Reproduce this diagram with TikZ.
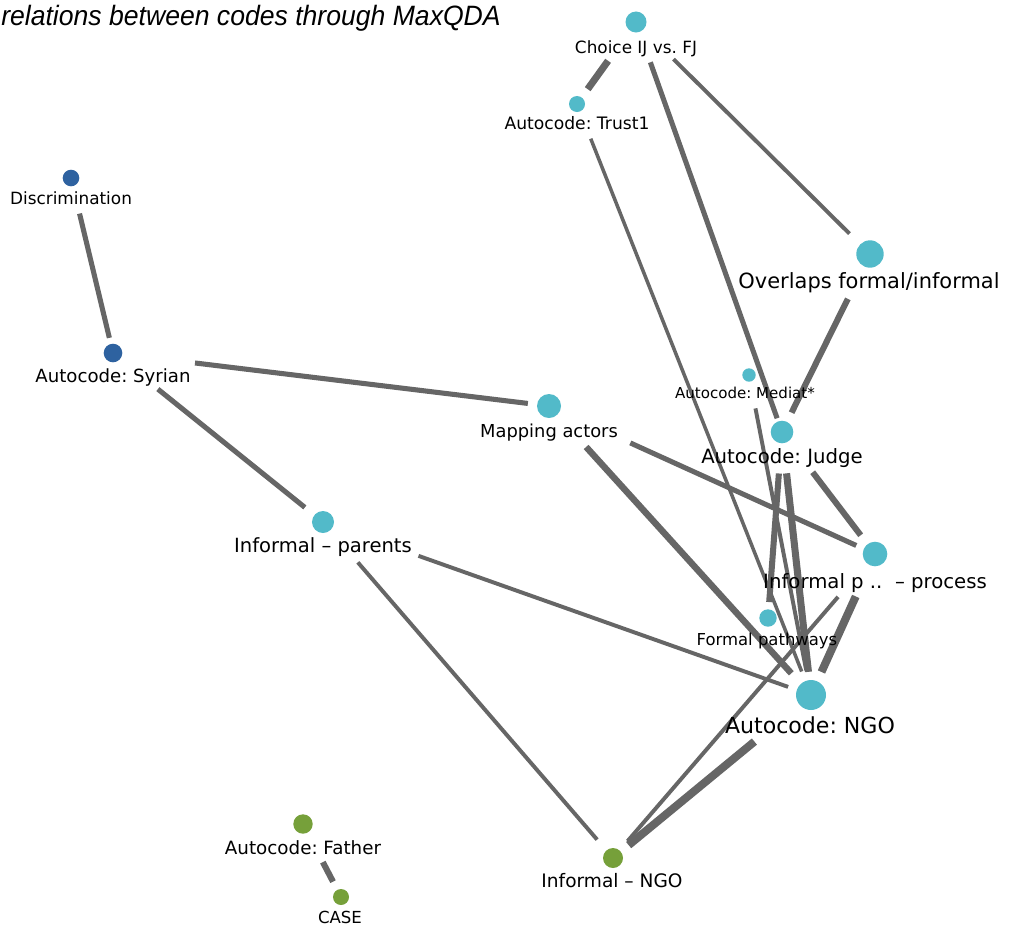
\documentclass[tikz,border=0pt]{standalone}
\usepackage{fontspec}
\setmainfont{DejaVu Sans}
\newfontfamily\titlefont{Liberation Sans}
\usetikzlibrary{positioning}
\frenchspacing

\definecolor{codecyan}{RGB}{82,186,201}
\definecolor{codeblue}{RGB}{46,98,160}
\definecolor{codegreen}{RGB}{118,160,58}
\definecolor{edgegray}{RGB}{102,102,102}

\begin{document}
\begin{tikzpicture}[x=0.025cm, y=-0.025cm,
  dot/.style={circle, inner sep=0pt, draw=none, minimum size=#1*0.05cm},
  lbl/.style={anchor=base, inner sep=0pt, font=\fontsize{#1}{#1}\selectfont},
  link/.style={draw=edgegray, line width=#1},
  trim/.style 2 args={shorten <=#1*0.7113pt, shorten >=#2*0.7113pt}]
  \useasboundingbox (0,0) rectangle (1009,928);

  \node[anchor=base west, inner sep=0pt, font=\titlefont\itshape\fontsize{19.9pt}{20pt}\selectfont] (title) at (1,25) {\scalebox{0.95}[1]{relations between codes through MaxQDA}};

  % codes
  \node[dot=10.5, fill=codecyan] (choice) at (636,22) {};
  \node[dot=8, fill=codecyan] (trust) at (577,104) {};
  \node[dot=8.3, fill=codeblue] (discr) at (71,178) {};
  \node[dot=13.7, fill=codecyan] (overl) at (870,254) {};
  \node[dot=9.3, fill=codeblue] (syr) at (113,353) {};
  \node[dot=6.7, fill=codecyan] (mediat) at (749,375) {};
  \node[dot=12, fill=codecyan] (mapp) at (549,406) {};
  \node[dot=11.3, fill=codecyan] (judge) at (782,432) {};
  \node[dot=11, fill=codecyan] (parents) at (323,522) {};
  \node[dot=12.3, fill=codecyan] (proc) at (875,554) {};
  \node[dot=8.7, fill=codecyan] (formal) at (768,618) {};
  \node[dot=15, fill=codecyan] (ngo) at (811,695) {};
  \node[dot=9.7, fill=codegreen] (father) at (303,824) {};
  \node[dot=8, fill=codegreen] (case) at (341,897) {};
  \node[dot=10, fill=codegreen] (infngo) at (613,858) {};

  % relations
  \draw[link=3.6pt, trim={28}{6}] (discr) -- (syr);
  \draw[link=5pt, trim={37}{10}] (choice) -- (trust);
  \draw[link=3.6pt, trim={32}{3}] (choice) -- (judge);
  \draw[link=2.8pt, trim={42}{15}] (choice) -- (overl);
  \draw[link=4.3pt, trim={36}{10}] (overl) -- (judge);
  \draw[link=2.5pt, trim={29}{10}] (trust) -- (ngo);
  \draw[link=2.8pt, trim={27}{10}] (mediat) -- (ngo);
  \draw[link=3.6pt, trim={73}{9}] (syr) -- (mapp);
  \draw[link=3.6pt, trim={48}{12}] (syr) -- (parents);
  \draw[link=3.6pt, trim={77}{8}] (mapp) -- (proc);
  \draw[link=4.6pt, trim={43}{14}] (mapp) -- (ngo);
  \draw[link=2.8pt, trim={90}{9}] (parents) -- (ngo);
  \draw[link=2.8pt, trim={42}{14}] (parents) -- (infngo);
  \draw[link=4.3pt, trim={30}{7}] (judge) -- (formal);
  \draw[link=5pt, trim={30}{8}] (judge) -- (ngo);
  \draw[link=4.3pt, trim={39}{11}] (judge) -- (proc);
  \draw[link=5.7pt, trim={34}{10}] (proc) -- (ngo);
  \draw[link=2.8pt, trim={44}{12}] (proc) -- (infngo);
  \draw[link=5.7pt, trim={58}{10}] (ngo) -- (infngo);
  \draw[link=4.3pt, trim={33}{9}] (father) -- (case);

  % labels
  \node[lbl=12pt] (lchoice) at (636,53) {Choice IJ vs. FJ};
  \node[lbl=12.2pt] (ltrust) at (577,129) {Autocode: Trust1};
  \node[lbl=12pt] (ldiscr) at (71,204) {Discrimination};
  \node[lbl=14.9pt] (loverl) at (869,288) {Overlaps formal/informal};
  \node[lbl=12.9pt] (lsyr) at (113,382) {Autocode: Syrian};
  \node[lbl=10.7pt] (lmediat) at (745,398) {Autocode: Mediat*};
  \node[lbl=12.7pt] (lmapp) at (549,437) {Mapping actors};
  \node[lbl=14pt] (ljudge) at (782,463) {Autocode: Judge};
  \node[lbl=13.9pt] (lparents) at (323,552) {Informal -- parents};
  \node[lbl=14pt] (lproc) at (875,588) {Informal p ..\ \ -- process};
  \node[lbl=11.7pt] (lformal) at (767,645) {Formal pathways};
  \node[lbl=15.7pt] (lngo) at (810,733) {Autocode: NGO};
  \node[lbl=13pt] (lfather) at (303,854) {Autocode: Father};
  \node[lbl=11.8pt] (lcase) at (340,923) {CASE};
  \node[lbl=13.2pt] (linfngo) at (612,887) {Informal -- NGO};
\end{tikzpicture}
\end{document}
